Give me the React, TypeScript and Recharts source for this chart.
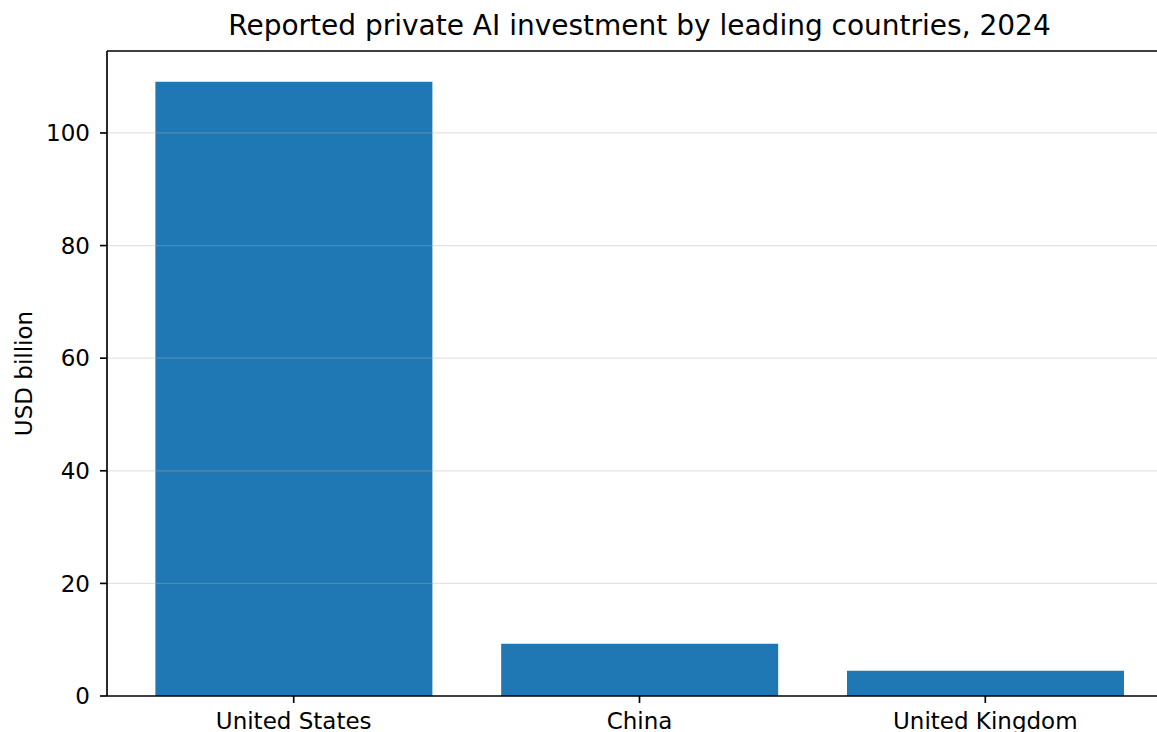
import React from 'react';
import { BarChart, Bar, XAxis, YAxis, ReferenceLine, Label } from 'recharts';

const countries = ['United States', 'China', 'United Kingdom'];
const investment = [109.1, 9.3, 4.5];
const yTicks = [0, 20, 40, 60, 80, 100];
const gridTicks = [20, 40, 60, 80, 100];
const yMax = 114.555;

const data = countries.map((c, i) => ({ country: c, value: investment[i] }));

const FONT = '"DejaVu Sans", sans-serif';
const LW = 1.67;
const FS = 23;

export default function App() {
  return (
    <div
      style={{
        position: 'fixed',
        left: 0,
        top: 0,
        width: 1157,
        height: 732,
        overflow: 'hidden',
        background: '#fff',
      }}
    >
      <BarChart
        width={1180}
        height={756}
        data={data}
        margin={{ top: 51, right: 8, bottom: 0, left: 0 }}
        barCategoryGap="10%"
      >
        <XAxis
          dataKey="country"
          interval={0}
          height={60}
          tickSize={7}
          tickMargin={10}
          padding={{ left: 13.8, right: 13.8 }}
          tick={{ fill: '#000', fontSize: FS, fontFamily: FONT }}
          tickLine={{ stroke: '#000', strokeWidth: LW }}
          axisLine={{ stroke: '#000', strokeWidth: LW }}
        />
        <YAxis
          type="number"
          domain={[0, yMax]}
          ticks={yTicks}
          allowDataOverflow
          width={107}
          tickSize={7}
          tickMargin={10}
          tick={{ fill: '#000', fontSize: FS, fontFamily: FONT }}
          tickLine={{ stroke: '#000', strokeWidth: LW }}
          axisLine={{ stroke: '#000', strokeWidth: LW }}
        >
          <Label
            value="USD billion"
            angle={-90}
            position="insideLeft"
            offset={24}
            style={{ textAnchor: 'middle', fill: '#000', fontSize: FS, fontFamily: FONT }}
          />
        </YAxis>
        <Bar dataKey="value" fill="#1f77b4" isAnimationActive={false} />
        {gridTicks.map((t) => (
          <ReferenceLine
            key={t}
            y={t}
            stroke="#b0b0b0"
            strokeOpacity={0.35}
            strokeWidth={1.2}
            ifOverflow="visible"
          />
        ))}
        <ReferenceLine y={yMax} stroke="#000" strokeWidth={LW} ifOverflow="visible" />
      </BarChart>
      <div
        style={{
          position: 'absolute',
          left: 0,
          top: 12,
          width: 1279,
          textAlign: 'center',
          fontFamily: FONT,
          fontSize: 28,
          lineHeight: '28px',
          color: '#000',
          whiteSpace: 'nowrap',
        }}
      >
        Reported private AI investment by leading countries, 2024
      </div>
    </div>
  );
}
